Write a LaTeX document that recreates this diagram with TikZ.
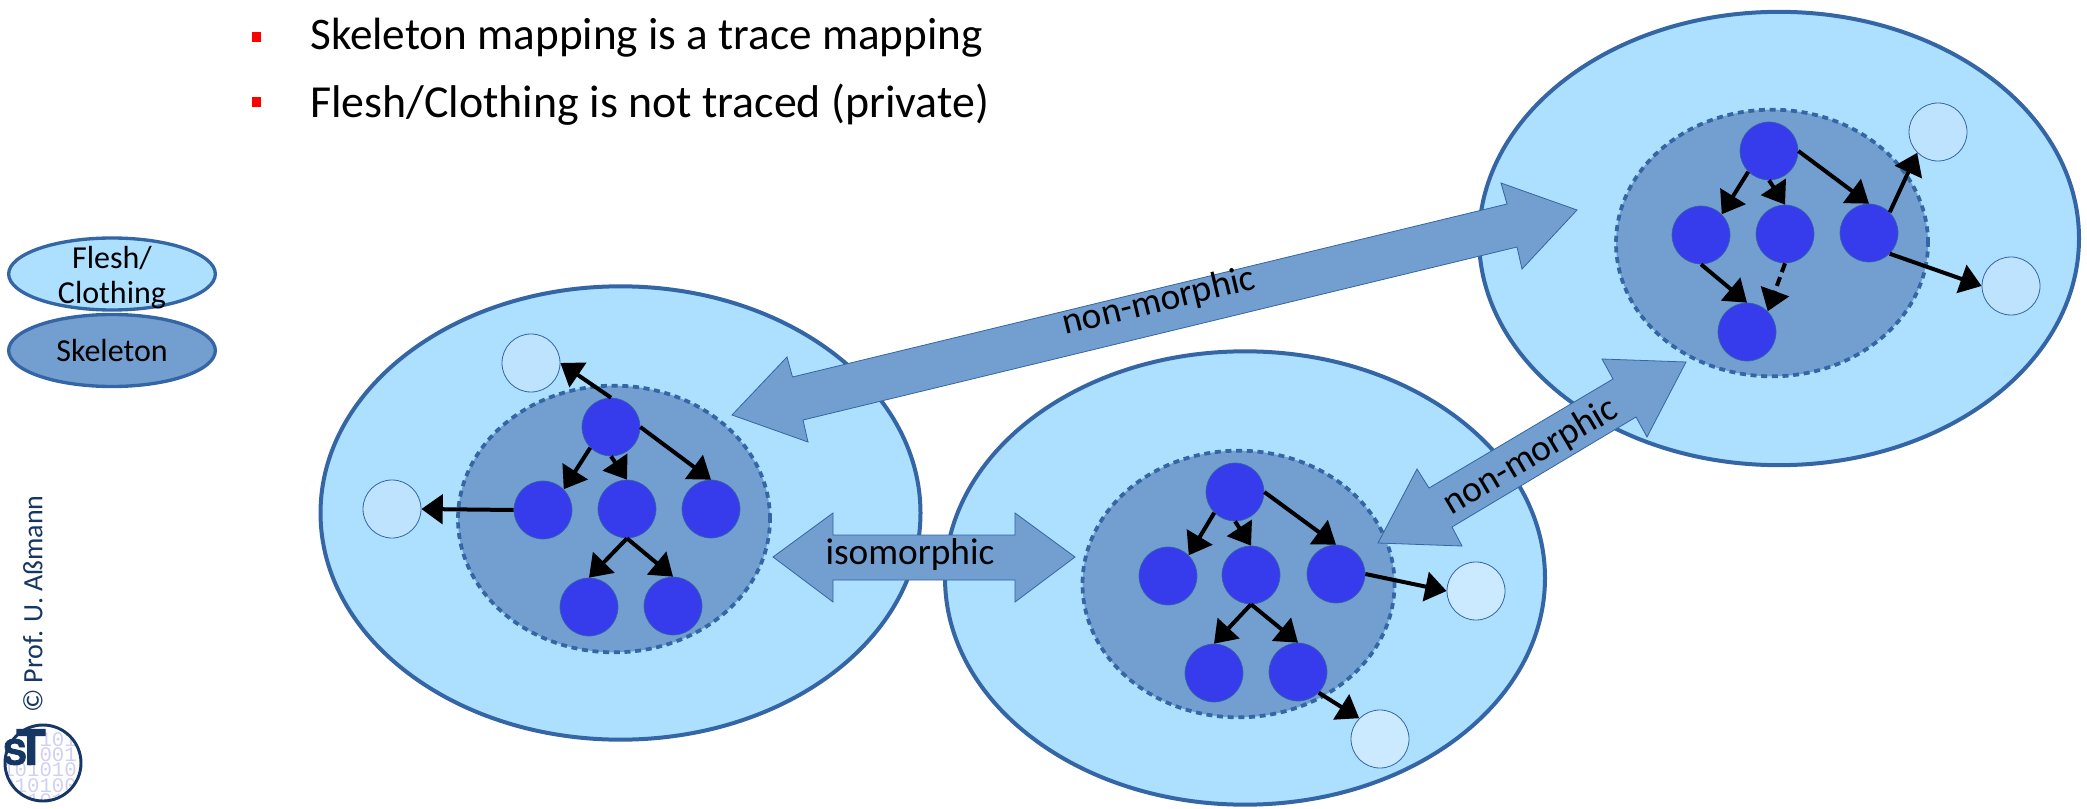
\documentclass[tikz,border=0pt]{standalone}
\usepackage{fontspec}
\setmainfont{Carlito}
\newfontfamily\stfont[BoldFeatures={FakeBold=2.5}]{TeX Gyre Heros}
\newfontfamily\bitfont{Liberation Mono}
\usepackage{xcolor}
\usetikzlibrary{arrows.meta, shapes.geometric}
\definecolor{fleshblue}{RGB}{173, 223, 255}
\definecolor{skelblue}{RGB}{114, 159, 207}
\definecolor{edgeblue}{RGB}{52, 101, 164}
\definecolor{nodeblue}{RGB}{54, 60, 236}
\definecolor{paleblue}{RGB}{203, 234, 255}
\definecolor{midblue}{RGB}{189, 227, 255}
\definecolor{stnavy}{RGB}{22, 54, 100}
\definecolor{stdigit}{RGB}{208, 208, 242}
\tikzset{
  fleshshape/.style={draw=edgeblue, fill=fleshblue, line width=3pt, ellipse, inner sep=0pt, minimum width=450pt, minimum height=340pt},
  skelshape/.style={draw=edgeblue, fill=skelblue, line width=2.8pt, dash pattern=on 4.5pt off 3.5pt, ellipse, inner sep=0pt, minimum width=234pt, minimum height=200pt},
  treenode/.style={circle, draw=edgeblue, fill=nodeblue, line width=0.5pt, inner sep=0pt, minimum size=43.5pt},
  clothnode/.style={circle, draw=edgeblue, fill=paleblue, line width=0.6pt, inner sep=0pt, minimum size=43.5pt},
  legendshape/.style={draw=edgeblue, line width=2.5pt, ellipse, inner sep=0pt, minimum width=155pt, minimum height=54pt},
  treearrow/.style={-{Triangle[length=16pt, width=22pt]}, line width=3pt},
  blockarrow/.style={draw=edgeblue, fill=skelblue, line width=0.6pt, line join=miter},
  legendtext/.style={font=\fontsize{24}{26}\selectfont, inner sep=0pt},
  arrowtext/.style={font=\fontsize{28}{30}\selectfont, inner sep=0pt},
  bullettext/.style={anchor=base west, inner sep=0pt},
  bulletmark/.style={fill=red, inner sep=0pt, minimum width=7pt, minimum height=7.5pt}
}
\begin{document}
\begin{tikzpicture}[x=0.75pt, y=-0.75pt]
\useasboundingbox (0,0) rectangle (2087,809);

% Bullets
\node[bulletmark] (bulA) at (256.5,37) {};
\node[bulletmark] (bulB) at (256.5,102) {};
\node[bullettext, font=\fontsize{33.9}{36}\selectfont] (txtA) at (310,50) {Skeleton mapping is a trace mapping};
\node[bullettext, font=\fontsize{34.4}{36}\selectfont] (txtB) at (310,118) {Flesh/Clothing is not traced (private)};

% Legend
\node[legendshape, fill=fleshblue] (legFlesh) at (112,274) {};
\node[legendshape, fill=skelblue] (legSkel) at (112,350.5) {};
\node[legendtext] (legFleshA) at (112,258) {Flesh/};
\node[legendtext] (legFleshB) at (112,295) {Clothing};
\node[legendtext] (legSkelT) at (112,351) {Skeleton};

% Copyright and logo
\node[rotate=90, text=stnavy, font=\fontsize{21}{22}\selectfont, inner sep=0pt] (copyT) at (33,604) {© Prof. U. Aßmann};
\begin{scope}
\clip (43,763) circle[radius=38];
\node[text=stdigit, font=\bitfont\fontsize{15.5}{11.5}\selectfont, align=right, inner sep=0pt, anchor=east] (logoBits) at (77,770) {101\\001\\101010\\010100\\1010};
\end{scope}
\draw[stnavy, line width=2.2pt] (43,763) circle[radius=38];
\node[text=stnavy, font=\stfont\bfseries\fontsize{36}{36}\selectfont, inner sep=0pt] (logoT) at (31,747) {T};
\node[text=stnavy, font=\stfont\bfseries\fontsize{26}{26}\selectfont, inner sep=0pt] (logoS) at (15,752) {S};

% Left model
\node[fleshshape] (fleshL) at (620.5,513) {};
\node[skelshape] (skelL) at (614,519) {};
\node[treenode] (aroot) at (611,427) {};
\node[treenode] (aone) at (543,510) {};
\node[treenode] (atwo) at (627,509) {};
\node[treenode] (athree) at (711,509) {};
\node[treenode] (afour) at (589,607) {};
\node[treenode] (afive) at (673,606) {};
\node[clothnode, fill=midblue] (acloA) at (531,363) {};
\node[clothnode, fill=midblue] (acloB) at (392,509) {};
\draw[treearrow] (aroot.north) -- (acloA.east);
\draw[treearrow] (aroot.south west) -- (aone.north east);
\draw[treearrow] (aroot.south) -- (atwo.north);
\draw[treearrow] (aroot.east) -- (athree.north);
\draw[treearrow] (aone.west) -- (acloB.east);
\draw[treearrow] (atwo.south) -- (afour.north);
\draw[treearrow] (atwo.south) -- (afive.north);

% Middle model
\node[fleshshape] (fleshM) at (1245,578) {};
\node[skelshape] (skelM) at (1238.5,584) {};
\node[treenode] (broot) at (1235,492) {};
\node[treenode] (bone) at (1168,576) {};
\node[treenode] (btwo) at (1251,575) {};
\node[treenode] (bthree) at (1336,574) {};
\node[treenode] (bfour) at (1214,673) {};
\node[treenode] (bfive) at (1298,672) {};
\node[clothnode] (bcloA) at (1476,591) {};
\node[clothnode] (bcloB) at (1380,739) {};
\draw[treearrow] (broot.south west) -- (bone.north east);
\draw[treearrow] (broot.south) -- (btwo.north);
\draw[treearrow] (broot.east) -- (bthree.north);
\draw[treearrow] (bthree.east) -- (bcloA.west);
\draw[treearrow] (btwo.south) -- (bfour.north);
\draw[treearrow] (btwo.south) -- (bfive.north);
\draw[treearrow] (bfive.south east) -- (bcloB.north west);

% Right model
\node[fleshshape] (fleshR) at (1779,238.5) {};
\node[skelshape] (skelR) at (1772,243) {};
\node[treenode] (croot) at (1769,151) {};
\node[treenode] (cone) at (1701,235) {};
\node[treenode] (ctwo) at (1785,234) {};
\node[treenode] (cthree) at (1869,233) {};
\node[treenode] (cfour) at (1747,332) {};
\node[clothnode, fill=midblue] (ccloA) at (1938,132) {};
\node[clothnode, fill=midblue] (ccloB) at (2011,286) {};
\draw[treearrow] (croot.south west) -- (cone.north east);
\draw[treearrow] (croot.south) -- (ctwo.north);
\draw[treearrow] (croot.east) -- (cthree.north);
\draw[treearrow] (cthree.north east) -- (ccloA.south west);
\draw[treearrow] (cthree.south east) -- (ccloB.west);
\draw[treearrow] (cone.south) -- (cfour.north);
\draw[treearrow, dash pattern=on 7pt off 4pt] (ctwo.south) -- (cfour.north east);

% Block arrows
\draw[blockarrow] (773,557) -- (833,513) -- (833,535) -- (1015,535) -- (1015,513) -- (1075,557) -- (1015,602) -- (1015,580) -- (833,580) -- (833,602) -- cycle;
\draw[blockarrow] (732,415) -- (787,357) -- (792.5,377) -- (1507,204) -- (1501,183) -- (1577,210) -- (1522,269) -- (1517,247) -- (803,420) -- (808,442) -- cycle;
\draw[blockarrow] (1378,543) -- (1417,469) -- (1429,488) -- (1613,379) -- (1602,359) -- (1686,362) -- (1647,437) -- (1636,417) -- (1452,527) -- (1462,546) -- cycle;
\node[arrowtext] (isoT) at (910,555) {isomorphic};
\node[arrowtext, rotate=13.6] (nonA) at (1159,302) {non-morphic};
\node[arrowtext, rotate=30.6] (nonB) at (1531,457) {non-morphic};
\end{tikzpicture}
\end{document}
